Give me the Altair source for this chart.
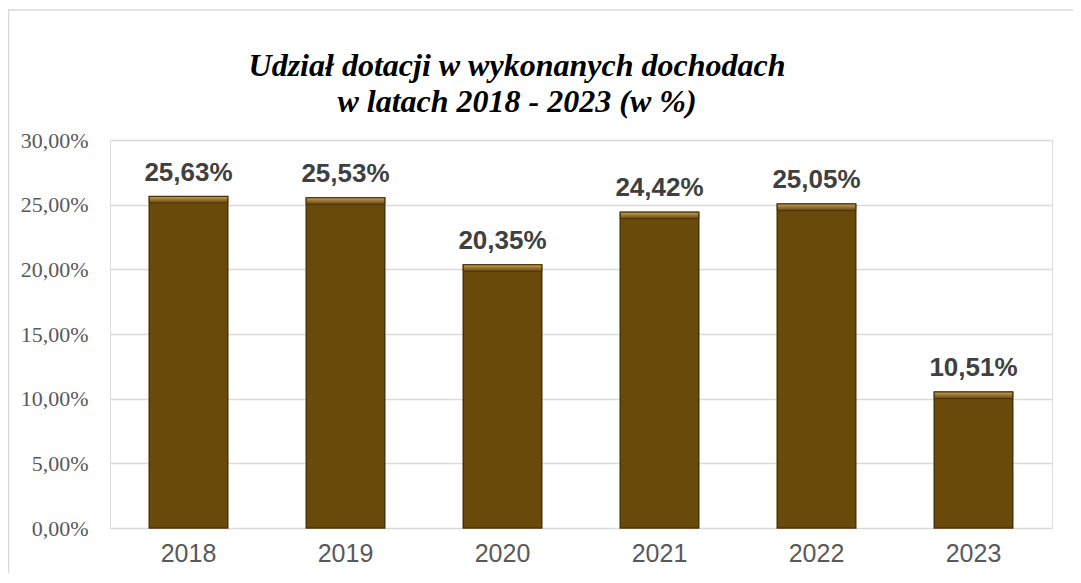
import altair as alt
import pandas as pd

years = ["2018", "2019", "2020", "2021", "2022", "2023"]
values = [25.63, 25.53, 20.35, 24.42, 25.05, 10.51]
y_ticks = [0, 5, 10, 15, 20, 25, 30]
title_text = "Udział dotacji w wykonanych dochodach\nw latach 2018 - 2023 (w %)"

df = pd.DataFrame({"rok": years, "v": values})

W, H = 942, 388

base = alt.Chart(df)

border = alt.Chart(pd.DataFrame({"a": [0]})).mark_rect(
    fill=None, stroke="#D9D9D9", strokeWidth=1.5
).encode(
    x=alt.value(-101.5), x2=alt.value(W + 40), y=alt.value(-130), y2=alt.value(H + 60)
)

title = alt.Chart(pd.DataFrame({"a": [0]})).mark_text(
    text=title_text, lineBreak="\n", font="Liberation Serif", fontSize=32,
    fontWeight="bold", fontStyle="italic", color="black", align="center",
    baseline="alphabetic", lineHeight=36
).encode(x=alt.value(407), y=alt.value(-64))

xenc = alt.X("rok:N", sort=years,
             scale=alt.Scale(paddingInner=0.5, paddingOuter=0.25),
             axis=alt.Axis(title=None, labelAngle=0, labelFont="Liberation Sans",
                           labelFontSize=25, labelColor="#595959", labelPadding=13,
                           ticks=False, domain=False))

bars = base.mark_bar(color="#6A4A0B", stroke="#4A3305", strokeWidth=1.5).encode(
    x=xenc,
    y=alt.Y("v:Q", scale=alt.Scale(domain=[0, 30]),
            axis=alt.Axis(title=None, values=y_ticks, grid=True, gridColor="#D9D9D9",
                          gridWidth=1.5, ticks=False, domain=False,
                          labelFont="Liberation Serif", labelFontSize=22,
                          labelColor="#595959", labelPadding=22,
                          labelExpr="replace(format(datum.value, '.2f'), '.', ',') + '%'")),
)

bevel = base.transform_calculate(vlow="datum.v - 0.5").mark_bar(
    color=alt.Gradient(
        gradient="linear", x1=0, y1=0, x2=0, y2=1,
        stops=[alt.GradientStop(color="#C9A55A", offset=0),
               alt.GradientStop(color="#957130", offset=0.5),
               alt.GradientStop(color="#6A4A0B", offset=1)]
    ),
    stroke="#4A3305", strokeWidth=1
).encode(x=alt.X("rok:N", sort=years), y="v:Q", y2="vlow:Q")

labels = base.transform_calculate(
    txt="replace(format(datum.v, '.2f'), '.', ',') + '%'"
).mark_text(
    font="Liberation Sans", fontSize=26, fontWeight="bold", color="#404040",
    baseline="alphabetic", dy=-16
).encode(
    x=alt.X("rok:N", sort=years),
    y=alt.Y("v:Q"),
    text="txt:N",
)

chart = alt.layer(border, bars, bevel, labels, title).properties(
    width=W, height=H,
    autosize=alt.AutoSizeParams(type="none"),
    padding={"left": 102, "top": 132, "right": 21, "bottom": 45},
).configure_view(stroke=None).configure(background="white")

chart.save("out.html", embed_options={"renderer": "svg", "actions": False})
